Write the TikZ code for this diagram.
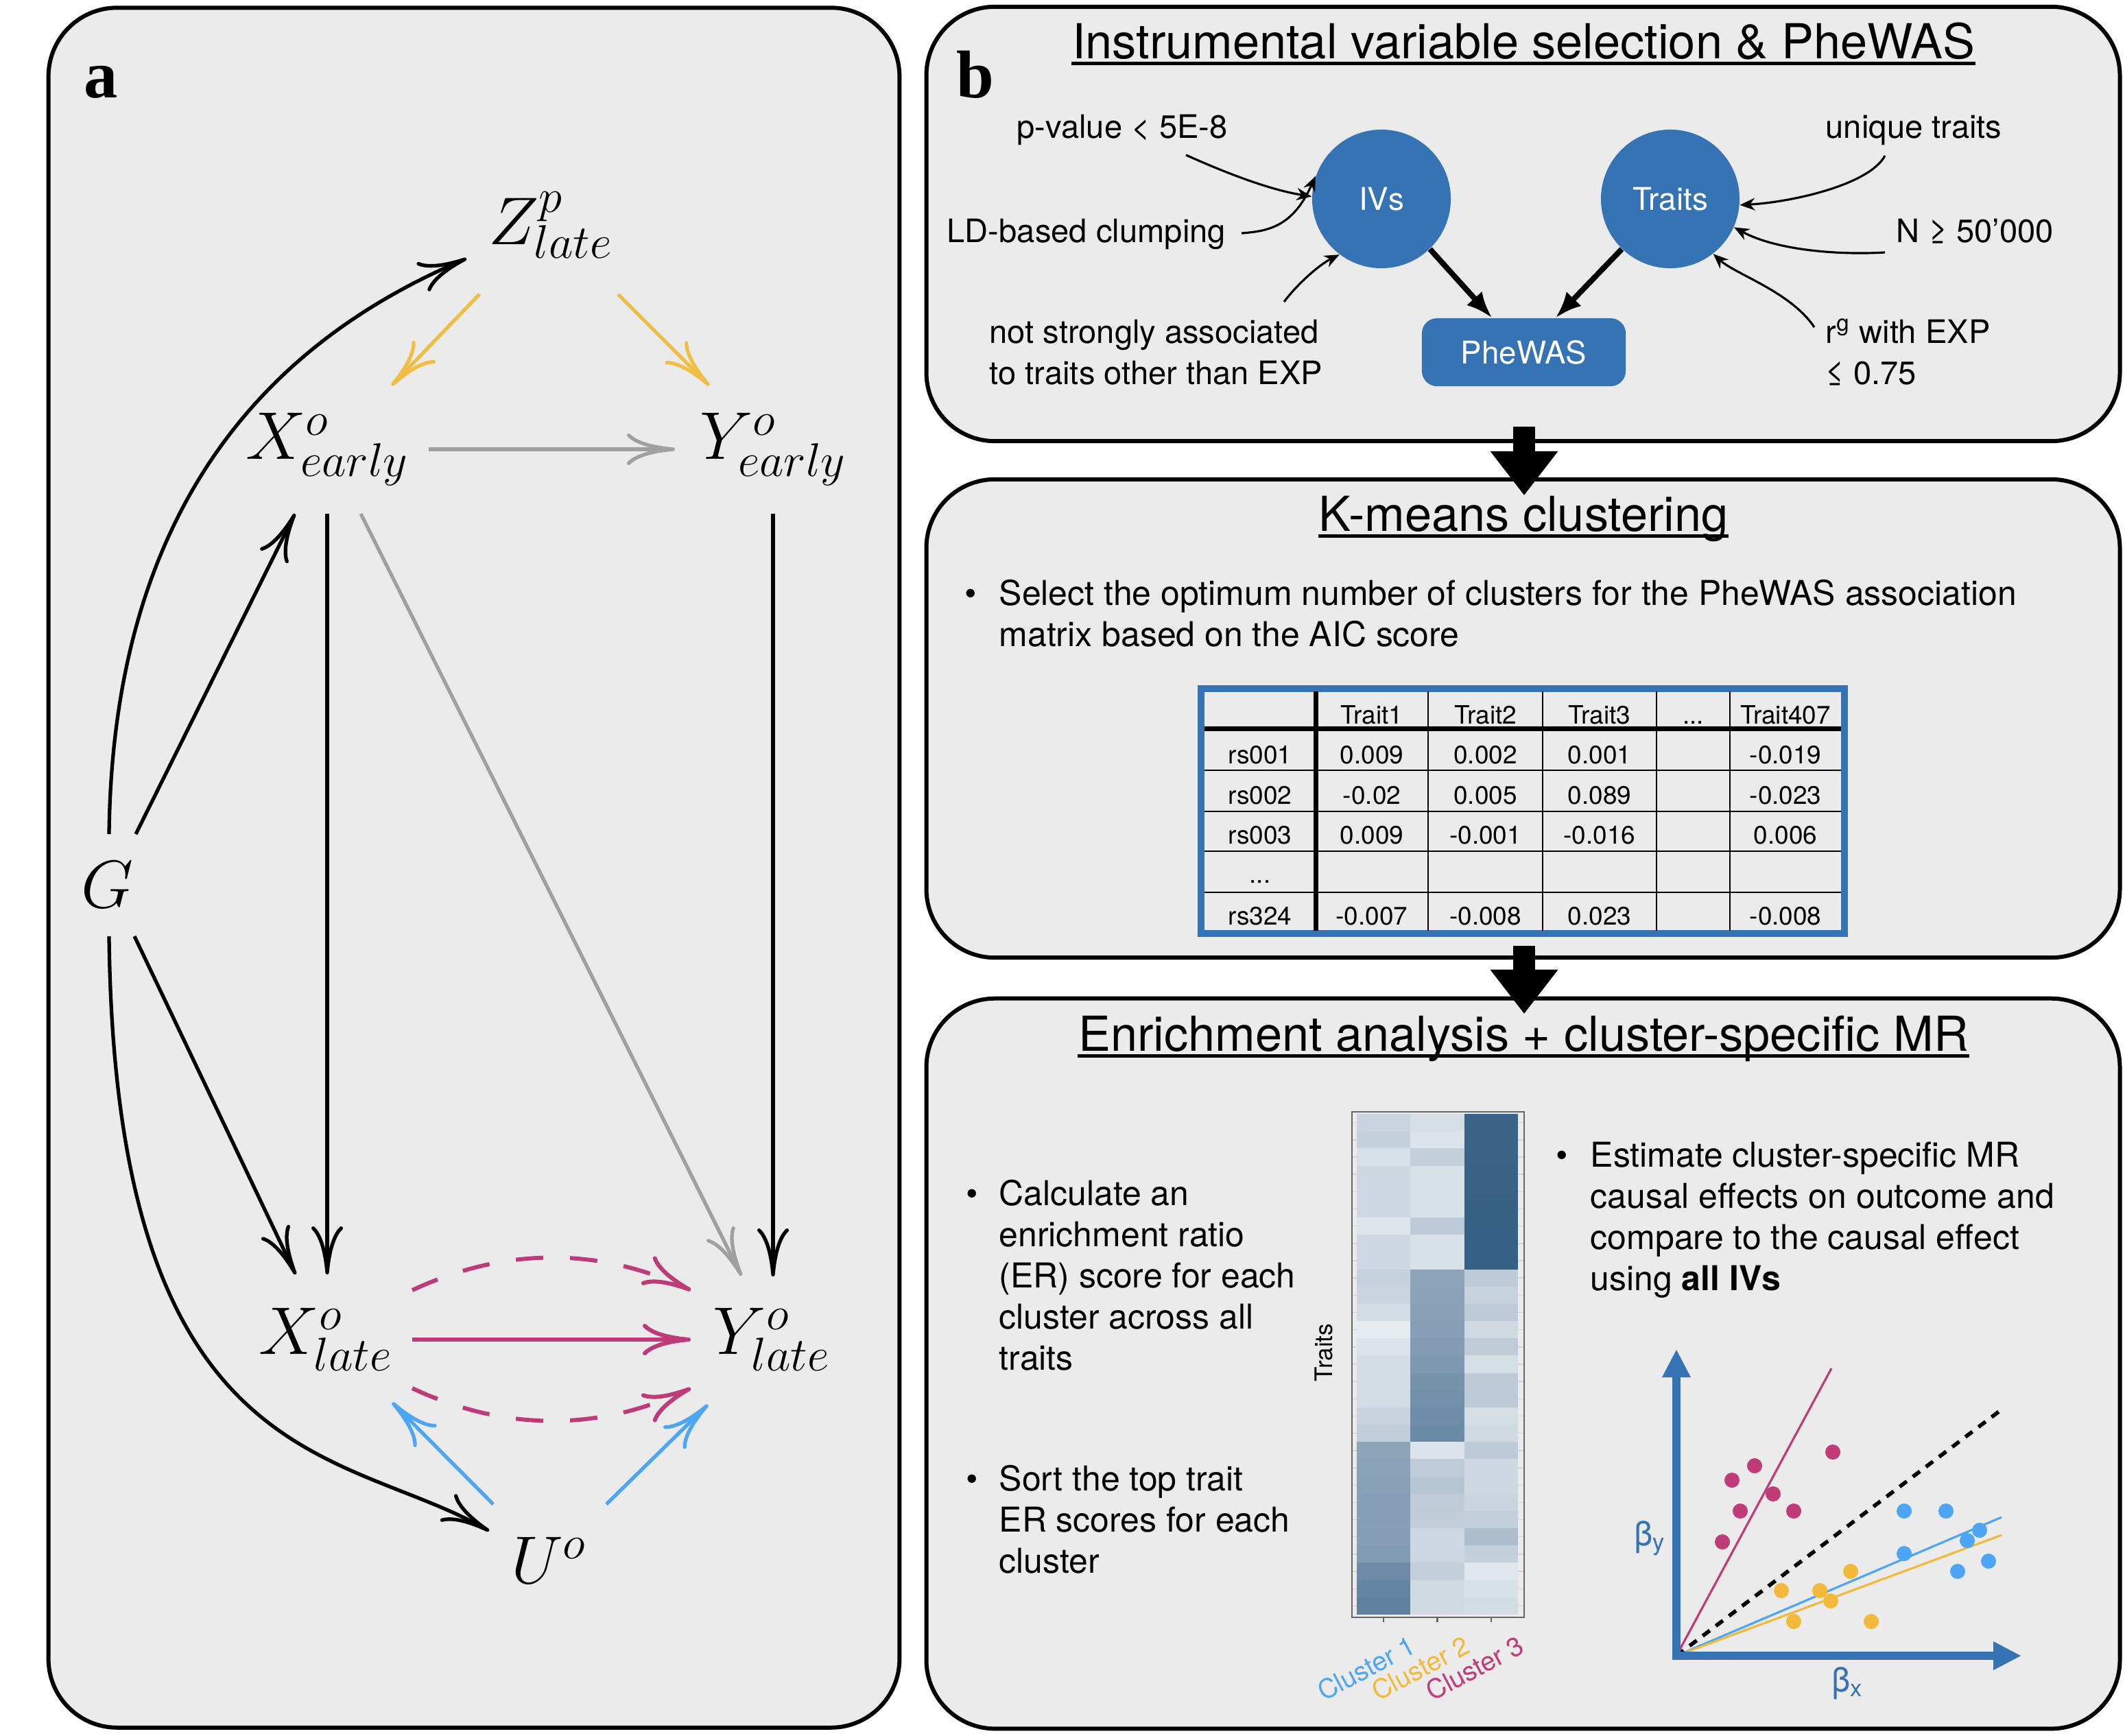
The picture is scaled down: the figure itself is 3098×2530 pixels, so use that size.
\RequirePackage{fix-cm}
\documentclass[tikz,border=0pt]{standalone}
\usepackage{fontspec}
\setsansfont{TeX Gyre Heros}
\newfontfamily\letterfont{Liberation Serif}
\usetikzlibrary{arrows.meta,positioning,calc}

\definecolor{panelgrey}{HTML}{EBEBEB}
\definecolor{ivblue}{HTML}{3573B5}
\definecolor{arrowgrey}{HTML}{A0A0A0}
\definecolor{zyellow}{HTML}{F0BE45}
\definecolor{latemag}{HTML}{BE3A78}
\definecolor{ublue}{HTML}{4DA6F5}
\definecolor{cluone}{HTML}{4DA6F5}
\definecolor{clutwo}{HTML}{F2B93B}
\definecolor{cluthree}{HTML}{C03C79}
\definecolor{hmdark}{HTML}{2B577E}
\definecolor{hmlight}{HTML}{EEF1F5}

\tikzset{
    panel/.style={draw, line width=1.7pt, fill=panelgrey, rounded corners=1cm, inner sep=0pt},
    varnode/.style={inner sep=0pt, font={\fontsize{28}{33}\selectfont}},
    dagarrow/.style={line width=1.5pt, -{To[length=7mm,width=4.6mm]}},
    heading/.style={inner sep=0pt, anchor=base, font={\sffamily\fontsize{20}{24}\selectfont}},
    crit/.style={inner sep=0pt, anchor=base west, font={\sffamily\fontsize{13.4}{16}\selectfont}},
    bullettxt/.style={inner sep=0pt, anchor=base west, font={\sffamily\fontsize{14.2}{17}\selectfont}},
    cell/.style={inner sep=0pt, anchor=base, font={\sffamily\fontsize{10.5}{12}\selectfont}},
    bluenode/.style={fill=ivblue, text=white, inner sep=0pt, font={\sffamily\fontsize{13}{15}\selectfont}},
    critarrow/.style={line width=0.9pt, -{Stealth[length=2.2mm,width=1.8mm]}},
    feedarrow/.style={line width=2.3pt, -{Latex[length=3.8mm,width=3mm]}},
    bigarrow/.style={line width=0.32cm, -{Triangle[length=0.64cm,width=0.99cm,line width=0pt]}},
    axisarrow/.style={ivblue, line width=3.4pt, -{Triangle[length=0.4cm,width=0.42cm,line width=0pt]}},
    underlined/.style={line width=1.3pt},
    clulabel/.style={rotate=28, anchor=north east, inner sep=0pt, font={\sffamily\fontsize{11}{13}\selectfont}}
}

\begin{document}
\begin{tikzpicture}[x=0.01cm, y=-0.01cm]
    \useasboundingbox (0,0) rectangle (3098,2530);

    % panels
    \node[panel, minimum width=12.40cm, minimum height=25.06cm] (pana) at (691,1265) {};
    \node[panel, minimum width=17.39cm, minimum height=6.33cm] (selbox) at (2220.5,326.5) {};
    \node[panel, minimum width=17.39cm, minimum height=6.97cm] (kmbox) at (2220.5,1047.5) {};
    \node[panel, minimum width=17.39cm, minimum height=10.64cm] (erbox) at (2220.5,1988) {};

    \node[inner sep=0pt, anchor=base west, font={\letterfont\bfseries\fontsize{28}{30}\selectfont}] (lbla) at (122,142) {a};
    \node[inner sep=0pt, anchor=base west, font={\letterfont\bfseries\fontsize{28}{30}\selectfont}] (lblb) at (1394,142) {b};

    % panel a: causal graph
    \node[varnode] (zl) at (803,328) {$Z^{p}_{late}$};
    \node[varnode] (xe) at (477,655) {$X^{o}_{early}$};
    \node[varnode] (ye) at (1127,655) {$Y^{o}_{early}$};
    \node[varnode] (xl) at (475,1953) {$X^{o}_{late}$};
    \node[varnode] (yl) at (1125,1953) {$Y^{o}_{late}$};
    \node[varnode] (uo) at (800,2275) {$U^{o}$};
    \node[varnode] (gv) at (157,1290) {$G$};

    \draw[dagarrow, zyellow] ([shift={(-104,101)}]zl.center) -- ([shift={(94,-93)}]xe.center);
    \draw[dagarrow, zyellow] ([shift={(98,101)}]zl.center) -- ([shift={(-93,-93)}]ye.center);
    \draw[dagarrow, arrowgrey] ([shift={(148,0)}]xe.center) -- ([shift={(-143,0)}]ye.center);
    \draw[dagarrow] ([shift={(0,94)}]xe.center) -- ([shift={(2,-95)}]xl.center);
    \draw[dagarrow, arrowgrey] ([shift={(49,94)}]xe.center) -- ([shift={(-44,-93)}]yl.center);
    \draw[dagarrow] ([shift={(0,94)}]ye.center) -- ([shift={(2,-92)}]yl.center);
    \draw[dagarrow, latemag, line width=1.7pt] ([shift={(126,0)}]xl.center) -- ([shift={(-118,0)}]yl.center);
    \draw[dagarrow, latemag, line width=1.7pt, dash pattern=on 0.4cm off 0.39cm]
        ([shift={(126,-72)}]xl.center) .. controls (736,1818) and (872,1818) .. ([shift={(-118,-72)}]yl.center);
    \draw[dagarrow, latemag, line width=1.7pt, dash pattern=on 0.4cm off 0.39cm]
        ([shift={(126,71)}]xl.center) .. controls (736,2087) and (872,2087) .. ([shift={(-118,71)}]yl.center);
    \draw[dagarrow, ublue] ([shift={(-81,-82)}]uo.center) -- ([shift={(97,92)}]xl.center);
    \draw[dagarrow, ublue] ([shift={(84,-82)}]uo.center) -- ([shift={(-93,95)}]yl.center);
    \draw[dagarrow] ([shift={(41,-74)}]gv.center) -- ([shift={(-47,94)}]xe.center);
    \draw[dagarrow] ([shift={(39,75)}]gv.center) -- ([shift={(-44,-95)}]xl.center);
    \draw[dagarrow] ([shift={(2,-74)}]gv.center) .. controls (165,700) and (430,483) .. ([shift={(-123,49)}]zl.center);
    \draw[dagarrow] ([shift={(2,75)}]gv.center) .. controls (168,2150) and (500,2110) .. ([shift={(-87,-43)}]uo.center);

    % panel b, step 1: IV selection and PheWAS
    \node[heading] (selhead) at (2221,85) {Instrumental variable selection \& PheWAS};
    \draw[underlined] ([yshift=-0.075cm]selhead.base west) -- ([yshift=-0.075cm]selhead.base east);

    \node[bluenode, circle, minimum size=2.02cm] (ivs) at (2014,290) {IVs};
    \node[bluenode, circle, minimum size=2.02cm] (traits) at (2435,290) {Traits};
    \node[bluenode, rounded corners=0.22cm, minimum width=2.97cm, minimum height=0.99cm] (phewas) at (2221.5,513.5) {PheWAS};

    \node[crit] (pval) at (1482,201) {p-value < 5E-8};
    \node[crit] (ldclump) at (1380,353) {LD-based clumping};
    \node[crit] (assoc1) at (1442,500) {not strongly associated};
    \node[crit] (assoc2) at (1442,560) {to traits other than EXP};
    \node[crit] (unique) at (2661,201) {unique traits};
    \node[crit] (nsize) at (2764,353) {N ≥ 50’000};
    \node[crit] (rgen1) at (2661,500) {r\textsuperscript{g} with EXP};
    \node[crit] (rgen2) at (2661,560) {≤ 0.75};

    \draw[critarrow] ([shift={(247,25)}]pval.base west) .. controls (1789,253) and (1852,277) .. (ivs.178);
    \draw[critarrow] ([shift={(430,-13)}]ldclump.base west) .. controls (1850,337) and (1885,330) .. (ivs.161);
    \draw[critarrow] ([shift={(430,-60)}]assoc1.base west) .. controls (1893,412) and (1925,385) .. (ivs.233);
    \draw[critarrow] ([shift={(87,26)}]unique.base west) .. controls (2725,270) and (2610,295) .. (traits.-5);
    \draw[critarrow] ([shift={(-16,15)}]nsize.base west) .. controls (2680,372) and (2590,365) .. (traits.-24);
    \draw[critarrow] ([shift={(-16,-23)}]rgen1.base west) .. controls (2610,425) and (2530,400) .. (traits.-52);

    \draw[feedarrow] (ivs.-46) -- ([xshift=-0.465cm]phewas.north);
    \draw[feedarrow] (traits.-134) -- ([xshift=0.465cm]phewas.north);

    % big arrows between the steps
    \draw[bigarrow] ([xshift=0.015cm,yshift=0.24cm]selbox.south) -- ([xshift=0.015cm,yshift=-0.26cm]kmbox.north);
    \draw[bigarrow] ([xshift=0.015cm,yshift=0.2cm]kmbox.south) -- ([xshift=0.015cm,yshift=-0.25cm]erbox.north);

    % panel b, step 2: k-means
    \node[heading] (kmhead) at (2221,774) {K-means clustering};
    \draw[underlined] ([yshift=-0.075cm]kmhead.base west) -- ([yshift=-0.075cm]kmhead.base east);
    \node[bullettxt, anchor=base] (kmdot) at (1415,882) {\textbullet};
    \node[bullettxt] (kmline1) at (1456,882) {Select the optimum number of clusters for the PheWAS association};
    \node[bullettxt] (kmline2) at (1456,942) {matrix based on the AIC score};

    % association matrix
    \draw[ivblue, line width=2.8pt] (1751,1004) rectangle (2689,1361);
    \foreach \x in {2082,2249,2415,2522}
        \draw[line width=0.7pt] (\x,1008) -- (\x,1357);
    \foreach \y in {1123,1183,1241,1301}
        \draw[line width=0.7pt] (1756,\y) -- (2684,\y);
    \draw[line width=2pt] (1918,1008) -- (1918,1357);
    \draw[line width=2pt] (1756,1062) -- (2684,1062);

    \foreach \cx/\txt [count=\k] in {2000/Trait1, 2165.5/Trait2, 2332/Trait3, 2603/Trait407}
        \node[cell] (thead\k) at (\cx,1055) {\txt};
    \node[cell] (theaddots) at (2468.5,1055) {...};
    \foreach \rs/\yb/\va/\vb/\vc/\vd in {rs001/1113/0.009/0.002/0.001/-0.019,
                                        rs002/1172/-0.02/0.005/0.089/-0.023,
                                        rs003/1230/0.009/-0.001/-0.016/0.006,
                                        rs324/1348/-0.007/-0.008/0.023/-0.008} {
        \node[cell] (\rs-id) at (1837,\yb) {\rs};
        \node[cell] (\rs-a) at (2000,\yb) {\va};
        \node[cell] (\rs-b) at (2165.5,\yb) {\vb};
        \node[cell] (\rs-c) at (2332,\yb) {\vc};
        \node[cell] (\rs-d) at (2603,\yb) {\vd};
    }
    \node[cell] (rowdots) at (1837,1287) {...};

    % panel b, step 3: enrichment and MR
    \node[heading] (erhead) at (2221,1532) {Enrichment analysis + cluster-specific MR};
    \draw[underlined] ([yshift=-0.075cm]erhead.base west) -- ([yshift=-0.075cm]erhead.base east);

    \node[bullettxt, anchor=base] (erdot1) at (1417,1757) {\textbullet};
    \foreach \ln [count=\i] in {{Calculate an},{enrichment ratio},{(ER) score for each},{cluster across all},{traits}}
        \node[bullettxt] (erline\i) at (1456,{1757+60*(\i-1)}) {\ln};
    \node[bullettxt, anchor=base] (erdot2) at (1417,2173) {\textbullet};
    \foreach \ln [count=\i] in {{Sort the top trait},{ER scores for each},{cluster}}
        \node[bullettxt] (sortline\i) at (1456,{2173+60*(\i-1)}) {\ln};
    \node[bullettxt, anchor=base] (mrdot) at (2277,1701) {\textbullet};
    \foreach \ln [count=\i] in {{Estimate cluster-specific MR},{causal effects on outcome and},{compare to the causal effect},{using \textbf{all IVs}}}
        \node[bullettxt] (mrline\i) at (2318,{1701+60*(\i-1)}) {\ln};

    % heatmap of enrichment ratios
    \fill[panelgrey] (1971,1621) rectangle (2222,2358);
    \foreach \r in {0,...,28} {
        \draw[gray!35, line width=0.4pt] (1971,{1636.6+25.17*\r}) -- (1978,{1636.6+25.17*\r});
        \draw[gray!35, line width=0.4pt] (2213,{1636.6+25.17*\r}) -- (2222,{1636.6+25.17*\r});
    }
    \foreach \p/\q/\s [count=\r] in {19/13/92, 21/10/92, 12/22/92, 17/11/93, 17/11/93, 17/11/94, 8/25/94, 16/12/95, 16/12/95,
                                     21/50/25, 18/51/20, 14/52/25, 4/53/15, 9/55/24, 14/58/13, 14/61/25, 14/63/25, 20/65/13, 23/67/15,
                                     50/9/25, 51/24/16, 52/28/16, 53/24/19, 53/23/22, 54/17/34, 56/17/22, 66/22/7, 70/15/11, 73/15/14} {
        \pgfmathsetmacro\ytop{1624+(\r-1)*25.17}
        \fill[hmdark!\p!hmlight] (1978,\ytop) rectangle ++(78.6,25.5);
        \fill[hmdark!\q!hmlight] (2056.3,\ytop) rectangle ++(78.6,25.5);
        \fill[hmdark!\s!hmlight] (2134.7,\ytop) rectangle (2213,{\ytop+25.5});
    }
    \draw[gray!80!black, line width=0.6pt] (1971,1621) rectangle (2222,2358);
    \foreach \x in {2017,2095.5,2174}
        \draw[gray!80!black, line width=0.6pt] (\x,2358) -- (\x,2365);
    \node[inner sep=0pt, rotate=90, font={\sffamily\fontsize{10}{12}\selectfont}] (hmtraits) at (1930,1972) {Traits};
    \node[clulabel, text=cluone] (clu1) at (2053,2382) {Cluster 1};
    \node[clulabel, text=clutwo] (clu2) at (2132,2382) {Cluster 2};
    \node[clulabel, text=cluthree] (clu3) at (2211,2382) {Cluster 3};

    % MR scatter plot
    \coordinate (orig) at (2444,2414);
    \coordinate (ytip) at (2444,1968);
    \coordinate (xtip) at (2946,2414);
    \coordinate (magend) at (2670,1995);
    \coordinate (allend) at (2918,2055);
    \coordinate (blueend) at (2918,2212);
    \coordinate (yellend) at (2918,2238);
    \draw[cluthree, line width=0.9pt] (orig) -- (magend);
    \draw[cluone, line width=0.9pt] (orig) -- (blueend);
    \draw[clutwo, line width=0.9pt] (orig) -- (yellend);
    \draw[black, line width=1.6pt, dash pattern=on 0.13cm off 0.11cm] (orig) -- (allend);
    \foreach \px/\py in {2672/2117, 2558/2137, 2525/2158, 2585/2178, 2537/2203, 2615/2203, 2511/2248}
        \fill[cluthree] (\px,\py) circle[radius=0.11cm];
    \foreach \px/\py in {2776/2203, 2837/2203, 2886/2231, 2868/2246, 2776/2265, 2899/2276, 2854/2291}
        \fill[cluone] (\px,\py) circle[radius=0.11cm];
    \foreach \px/\py in {2698/2291, 2597/2319, 2653/2319, 2669/2334, 2615/2364, 2728/2364}
        \fill[clutwo] (\px,\py) circle[radius=0.11cm];
    \draw[axisarrow] ([yshift=-0.06cm]orig) -- (ytip);
    \draw[axisarrow] ([xshift=-0.06cm]orig) -- (xtip);
    \node[inner sep=0pt, text=ivblue, font={\sffamily\fontsize{14}{16}\selectfont}] (betay) at (2405,2243) {β\textsubscript{y}};
    \node[inner sep=0pt, text=ivblue, font={\sffamily\fontsize{14}{16}\selectfont}] (betax) at (2693,2454) {β\textsubscript{x}};
\end{tikzpicture}
\end{document}
